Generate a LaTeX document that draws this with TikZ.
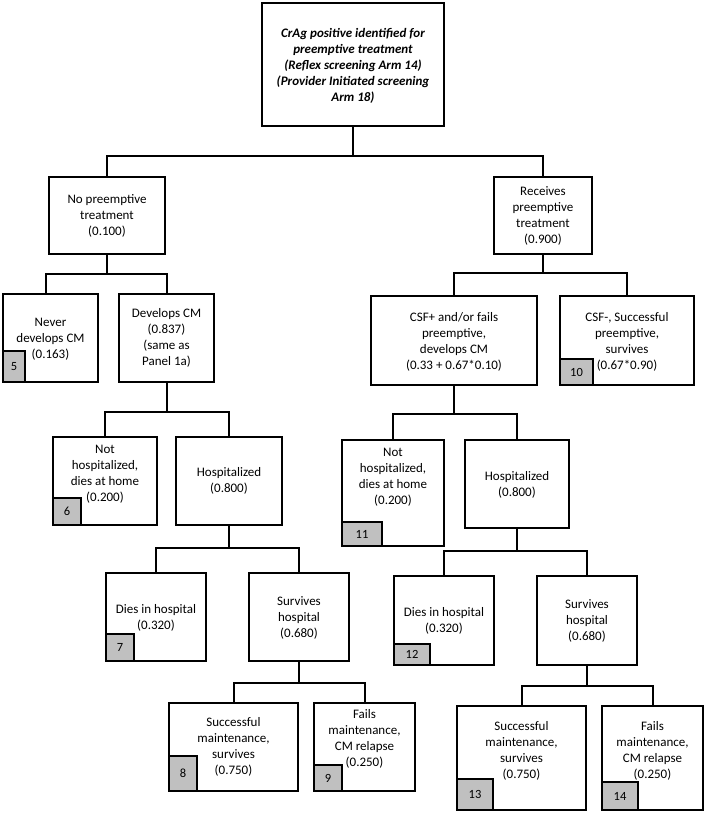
\documentclass[tikz,border=0pt]{standalone}
\usepackage{fontspec}
\setmainfont{Carlito}
\definecolor{numgray}{RGB}{192,192,192}
\tikzset{
  box/.style={draw, line width=2pt, inner sep=0pt, fill=white},
  lbl/.style={align=center, font=\fontsize{13}{16}\selectfont, inner sep=0pt},
  numbox/.style={draw, line width=2pt, fill=numgray, inner sep=0pt,
    font=\fontsize{12.5}{14}\selectfont, anchor=south west},
  conn/.style={line width=2pt},
}
\newcommand\branch[4]{%
  \draw[conn] (#1.south) -- ++(0,#2) coordinate (#1-j);
  \draw[conn] (#3) |- (#1-j) -| (#4);
}
\begin{document}
\begin{tikzpicture}[x=1pt,y=-1pt]
\useasboundingbox (0,0) rectangle (706,814);

% boxes
\node[box, minimum width=182, minimum height=123] (root) at (353,64.5) {};
\node[box, minimum width=116, minimum height=77] (nopre) at (107,215.5) {};
\node[box, minimum width=98, minimum height=77] (recv) at (543,215.5) {};
\node[box, minimum width=95, minimum height=88] (never) at (50.5,338) {};
\node[box, minimum width=95, minimum height=88] (dev) at (166.5,338) {};
\node[box, minimum width=166, minimum height=89] (csfp) at (454,340.5) {};
\node[box, minimum width=134, minimum height=89] (csfm) at (627,340.5) {};
\node[box, minimum width=104, minimum height=88] (nhL) at (105,481) {};
\node[box, minimum width=106, minimum height=88] (hL) at (229,481) {};
\node[box, minimum width=102, minimum height=106] (nhR) at (393,493) {};
\node[box, minimum width=104, minimum height=88] (hR) at (517,484) {};
\node[box, minimum width=100, minimum height=88] (dL) at (156,617) {};
\node[box, minimum width=100, minimum height=88] (sL) at (299,617) {};
\node[box, minimum width=100, minimum height=89] (dR) at (444,620.5) {};
\node[box, minimum width=100, minimum height=89] (sR) at (587,620.5) {};
\node[box, minimum width=129, minimum height=88] (smL) at (233.5,747) {};
\node[box, minimum width=101, minimum height=88] (fL) at (364.5,747) {};
\node[box, minimum width=129, minimum height=104] (smR) at (521.5,758) {};
\node[box, minimum width=101, minimum height=104] (fR) at (652.5,758) {};

% number boxes
\node[numbox, minimum width=22, minimum height=31] (n5) at (never.south west) {5};
\node[numbox, minimum width=28, minimum height=27] (n6) at (nhL.south west) {6};
\node[numbox, minimum width=28, minimum height=27] (n7) at (dL.south west) {7};
\node[numbox, minimum width=28, minimum height=35] (n8) at (smL.south west) {8};
\node[numbox, minimum width=28, minimum height=26] (n9) at (fL.south west) {9};
\node[numbox, minimum width=33, minimum height=26] (n10) at (csfm.south west) {10};
\node[numbox, minimum width=40, minimum height=24] (n11) at (nhR.south west) {11};
\node[numbox, minimum width=36, minimum height=21] (n12) at (dR.south west) {12};
\node[numbox, minimum width=36, minimum height=31] (n13) at (smR.south west) {13};
\node[numbox, minimum width=36, minimum height=28] (n14) at (fR.south west) {14};

% labels
\node[lbl, font=\fontsize{13}{16}\selectfont\bfseries\itshape] (t-root) at (353,66)
  {CrAg positive identified for\\preemptive treatment\\(Reflex screening Arm 14)\\(Provider Initiated screening\\Arm 18)};
\node[lbl] (t-nopre) at (107,216) {No preemptive\\treatment\\(0.100)};
\node[lbl] (t-recv) at (543,216) {Receives\\preemptive\\treatment\\(0.900)};
\node[lbl] (t-never) at (50.5,339) {Never\\develops CM\\(0.163)};
\node[lbl] (t-dev) at (166.5,338) {Develops CM\\(0.837)\\(same as\\Panel 1a)};
\node[lbl] (t-csfp) at (454,342) {CSF+ and/or fails\\preemptive,\\develops CM\\(0.33 + 0.67*0.10)};
\node[lbl] (t-csfm) at (627,342) {CSF-, Successful\\preemptive,\\survives\\(0.67*0.90)};
\node[lbl] (t-nhL) at (105,474) {Not\\hospitalized,\\dies at home\\(0.200)};
\node[lbl] (t-hL) at (229,481) {Hospitalized\\(0.800)};
\node[lbl] (t-nhR) at (393,477) {Not\\hospitalized,\\dies at home\\(0.200)};
\node[lbl] (t-hR) at (517,485) {Hospitalized\\(0.800)};
\node[lbl] (t-dL) at (156,618) {Dies in hospital\\(0.320)};
\node[lbl] (t-sL) at (299,618) {Survives\\hospital\\(0.680)};
\node[lbl] (t-dR) at (444,621) {Dies in hospital\\(0.320)};
\node[lbl] (t-sR) at (587,621) {Survives\\hospital\\(0.680)};
\node[lbl] (t-smL) at (233.5,747) {Successful\\maintenance,\\survives\\(0.750)};
\node[lbl] (t-fL) at (364.5,739) {Fails\\maintenance,\\CM relapse\\(0.250)};
\node[lbl] (t-smR) at (521.5,751) {Successful\\maintenance,\\survives\\(0.750)};
\node[lbl] (t-fR) at (652.5,751) {Fails\\maintenance,\\CM relapse\\(0.250)};

% connectors
\branch{root}{29}{nopre.north}{recv.north}
\branch{nopre}{19}{[xshift=-4.5pt]never.north}{dev.north}
\branch{recv}{18}{csfp.north}{csfm.north}
\branch{dev}{29}{nhL.north}{hL.north}
\branch{csfp}{28}{nhR.north}{hR.north}
\branch{hL}{22}{dL.north}{sL.north}
\branch{hR}{22}{dR.north}{sR.north}
\branch{sL}{21}{smL.north}{fL.north}
\branch{sR}{20}{smR.north}{fR.north}
\end{tikzpicture}
\end{document}
